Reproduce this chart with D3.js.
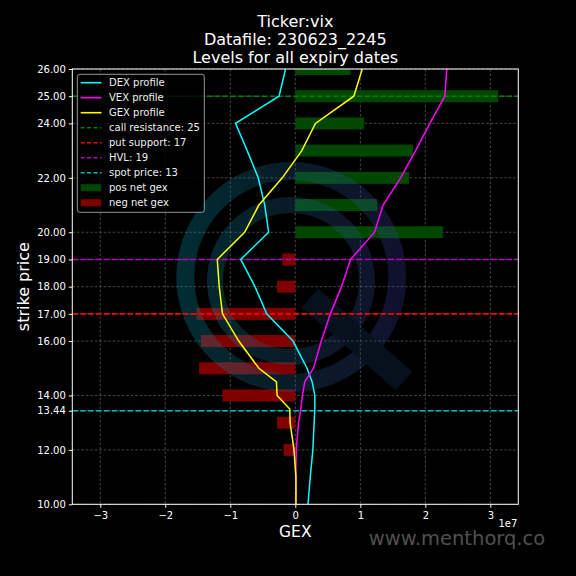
<!DOCTYPE html>
<html><head><meta charset="utf-8">
<script src="https://cdn.jsdelivr.net/npm/d3@7"></script>
<style>body{margin:0;background:#000}svg{display:block}text{font-family:"DejaVu Sans",sans-serif;fill:#fff}</style>
</head><body>
<script>
// ---- data ----
const titleLines = ["Ticker:vix", "Datafile: 230623_2245", "Levels for all expiry dates"];
const barStrikes = [12, 13, 14, 15, 16, 17, 18, 19, 20, 21, 22, 23, 24, 25, 26];
const netGex = [-0.18, -0.28, -1.12, -1.48, -1.45, -1.52, -0.28, -0.20, 2.27, 1.26, 1.75, 1.81, 1.06, 3.12, 0.85]; // x1e7
const profileStrikes = [10, 11, 12, 13, 13.5, 14, 14.5, 15, 16, 17, 18, 19, 20, 21, 22, 23, 24, 25, 26];
const dexProfile = [0.195, 0.23, 0.27, 0.29, 0.30, 0.30, 0.26, 0.18, -0.035, -0.44, -0.62, -0.84, -0.41, -0.47, -0.57, -0.74, -0.92, -0.25, -0.15];
const vexProfile = [0.008, 0.008, 0.015, 0.05, 0.085, 0.11, 0.145, 0.28, 0.40, 0.54, 0.71, 0.85, 1.22, 1.35, 1.62, 1.85, 2.07, 2.30, 2.33];
const gexProfile = [0.01, 0.01, -0.02, -0.08, -0.085, -0.28, -0.29, -0.56, -0.87, -1.12, -1.17, -1.20, -0.78, -0.56, -0.20, 0.10, 0.31, 0.90, 1.03];
const levels = [
  {label: "call resistance: 25", value: 25, color: "#008000"},
  {label: "put support: 17", value: 17, color: "#ff0000"},
  {label: "HVL: 19", value: 19, color: "#bf00bf"},
  {label: "spot price: 13", value: 13.44, color: "#00bfbf"}
];
const yTicks = [10, 12, 13.44, 14, 16, 17, 18, 19, 20, 22, 24, 25, 26];
const xTicks = [-3, -2, -1, 0, 1, 2, 3];
const xDomain = [-3.43, 3.43];
const yDomain = [10, 26];

// ---- layout ----
const W = 576, H = 576;
const m = {left: 72.3, right: 518.3, top: 69, bottom: 504.3};
const svg = d3.select("body").append("svg").attr("width", W).attr("height", H);
svg.append("rect").attr("width", W).attr("height", H).attr("fill", "#000");

const x = d3.scaleLinear().domain(xDomain).range([m.left, m.right]);
const y = d3.scaleLinear().domain(yDomain).range([m.bottom, m.top]);

const defs = svg.append("defs");
defs.append("clipPath").attr("id", "clip").append("rect")
  .attr("x", m.left).attr("y", m.top).attr("width", m.right - m.left).attr("height", m.bottom - m.top);
const grad = defs.append("linearGradient").attr("id", "wm").attr("gradientUnits", "userSpaceOnUse")
  .attr("x1", 176).attr("y1", 0).attr("x2", 407).attr("y2", 0);
grad.append("stop").attr("offset", "0").attr("stop-color", "#00a8bc");
grad.append("stop").attr("offset", "0.45").attr("stop-color", "#1e6a90");
grad.append("stop").attr("offset", "1").attr("stop-color", "#4040a8");

// grid
const grid = svg.append("g");
xTicks.forEach(t => grid.append("line").attr("x1", x(t)).attr("x2", x(t)).attr("y1", m.top).attr("y2", m.bottom)
  .attr("stroke", "#777").attr("stroke-width", 0.6).attr("stroke-dasharray", "2.5,2"));
yTicks.forEach(t => grid.append("line").attr("y1", y(t)).attr("y2", y(t)).attr("x1", m.left).attr("x2", m.right)
  .attr("stroke", "#777").attr("stroke-width", 0.6).attr("stroke-dasharray", "2.5,2"));

const plot = svg.append("g").attr("clip-path", "url(#clip)");
const bh = 0.44;
// bars
plot.selectAll("rect.bar").data(barStrikes.map((s, i) => ({s, v: netGex[i]}))).join("rect")
  .attr("x", d => Math.min(x(0), x(d.v))).attr("width", d => Math.abs(x(d.v) - x(0)))
  .attr("y", d => y(d.s + bh / 2)).attr("height", d => y(d.s - bh / 2) - y(d.s + bh / 2))
  .attr("fill", d => d.v >= 0 ? "#004800" : "#800000");

// watermark logo
const wm = plot.append("g").attr("opacity", 0.27);
wm.append("circle").attr("cx", 291.3).attr("cy", 277).attr("r", 106).attr("fill", "none")
  .attr("stroke", "url(#wm)").attr("stroke-width", 18);
wm.append("circle").attr("cx", 291).attr("cy", 281).attr("r", 76).attr("fill", "none")
  .attr("stroke", "url(#wm)").attr("stroke-width", 16);
wm.append("line").attr("x1", 310).attr("y1", 298).attr("x2", 404).attr("y2", 381)
  .attr("stroke", "#1c3c6c").attr("stroke-width", 25);

// level lines
levels.forEach(l => plot.append("line").attr("x1", m.left).attr("x2", m.right).attr("y1", y(l.value)).attr("y2", y(l.value))
  .attr("stroke", l.color).attr("stroke-width", 1.6).attr("stroke-dasharray", "5.5,2.4"));

// profiles
const profiles = [
  {label: "DEX profile", vals: dexProfile, color: "#00ffff"},
  {label: "VEX profile", vals: vexProfile, color: "#ff00ff"},
  {label: "GEX profile", vals: gexProfile, color: "#ffff00"}
];
const line = d3.line().x(d => x(d[1])).y(d => y(d[0]));
profiles.forEach(p => plot.append("path").datum(profileStrikes.map((s, i) => [s, p.vals[i]]))
  .attr("d", line).attr("fill", "none").attr("stroke", p.color).attr("stroke-width", 1.5));

// frame
svg.append("rect").attr("x", m.left).attr("y", m.top).attr("width", m.right - m.left).attr("height", m.bottom - m.top)
  .attr("fill", "none").attr("stroke", "#fff").attr("stroke-width", 1);

// axes
const xAxis = svg.append("g").attr("transform", `translate(0,${m.bottom})`)
  .call(d3.axisBottom(x).tickValues(xTicks).tickSize(3.5).tickPadding(4).tickFormat(d3.format("d")));
const yAxis = svg.append("g").attr("transform", `translate(${m.left},0)`)
  .call(d3.axisLeft(y).tickValues(yTicks).tickSize(3.5).tickPadding(3).tickFormat(d3.format(".2f")));
[xAxis, yAxis].forEach(a => {
  a.select(".domain").remove();
  a.selectAll("line").attr("stroke", "#fff");
  a.selectAll("text").attr("fill", "#fff").style("font-size", "10px").style("font-family", "DejaVu Sans");
});
xAxis.selectAll("text").text(d => d < 0 ? "\u2212" + Math.abs(d) : String(d));

// labels
svg.append("text").attr("x", (m.left + m.right) / 2).attr("y", 537).attr("text-anchor", "middle")
  .style("font-size", "15.5px").text("GEX");
svg.append("text").attr("transform", `translate(29,${(m.top + m.bottom) / 2}) rotate(-90)`).attr("text-anchor", "middle")
  .style("font-size", "16px").text("strike price");
svg.append("text").attr("x", m.right - 1).attr("y", 527).attr("text-anchor", "end").style("font-size", "10px").text("1e7");
titleLines.forEach((t, i) => svg.append("text").attr("x", (m.left + m.right) / 2).attr("y", 27 + i * 18)
  .attr("text-anchor", "middle").style("font-size", "16px").text(t));
svg.append("text").attr("x", 457).attr("y", 545).attr("text-anchor", "middle").style("font-size", "19.5px")
  .style("fill", "#505050").text("www.menthorq.co");

// legend
const lg = svg.append("g");
lg.append("rect").attr("x", 77.3).attr("y", 74.3).attr("width", 127).attr("height", 138).attr("rx", 2.5)
  .attr("fill", "#000").attr("fill-opacity", 0.8).attr("stroke", "#bbb").attr("stroke-width", 0.8);
const entries = [
  ...profiles.map(p => ({label: p.label, type: "line", color: p.color})),
  ...levels.map(l => ({label: l.label, type: "dash", color: l.color})),
  {label: "pos net gex", type: "patch", color: "#004800"},
  {label: "neg net gex", type: "patch", color: "#800000"}
];
entries.forEach((e, i) => {
  const yy = 82.7 + i * 15;
  if (e.type === "patch") {
    lg.append("rect").attr("x", 80.7).attr("y", yy - 3.5).attr("width", 20.5).attr("height", 7).attr("fill", e.color);
  } else {
    lg.append("line").attr("x1", 80.7).attr("x2", 101.5).attr("y1", yy).attr("y2", yy).attr("stroke", e.color)
      .attr("stroke-width", 1.6).attr("stroke-dasharray", e.type === "dash" ? "4,2.4" : null);
  }
  lg.append("text").attr("x", 109).attr("y", yy + 3.6).style("font-size", "10px").style("fill", "#eee").text(e.label);
});
</script>
</body></html>
